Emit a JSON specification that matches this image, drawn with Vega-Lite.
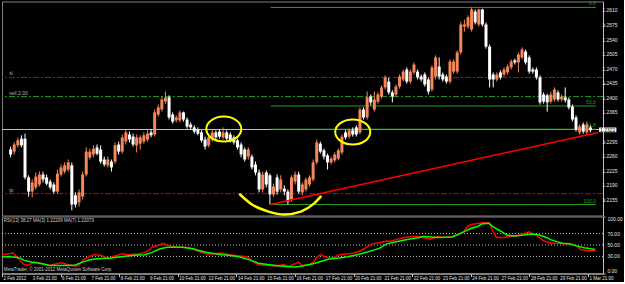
{
  "$schema": "https://vega.github.io/schema/vega-lite/v6.json",
  "background": "black",
  "padding": {"left": -2, "top": 0.5, "right": 0, "bottom": 0},
  "spacing": 1,
  "bounds": "flush",
  "config": {
    "view": {"stroke": "#808080", "strokeWidth": 1},
    "font": "Liberation Sans",
    "axis": {"grid": false, "title": null, "labels": false, "domainColor": "#C0C0C0", "tickColor": "#C0C0C0"}
  },
  "datasets": {
    "candles": [
{"i":1,"o":1.2276,"h":1.2283,"l":1.2257,"c":1.2264},
{"i":2,"o":1.2271,"h":1.2293,"l":1.2264,"c":1.2288},
{"i":3,"o":1.2286,"h":1.2305,"l":1.2281,"c":1.2298},
{"i":4,"o":1.2302,"h":1.2310,"l":1.2281,"c":1.2286},
{"i":5,"o":1.2302,"h":1.2314,"l":1.2204,"c":1.2209},
{"i":6,"o":1.2209,"h":1.2214,"l":1.2163,"c":1.2175},
{"i":7,"o":1.2175,"h":1.2204,"l":1.2161,"c":1.2197},
{"i":8,"o":1.2185,"h":1.2221,"l":1.2180,"c":1.2211},
{"i":9,"o":1.2192,"h":1.2223,"l":1.2187,"c":1.2216},
{"i":10,"o":1.2216,"h":1.2223,"l":1.2197,"c":1.2204},
{"i":11,"o":1.2209,"h":1.2216,"l":1.2190,"c":1.2194},
{"i":12,"o":1.2199,"h":1.2204,"l":1.2180,"c":1.2185},
{"i":13,"o":1.2192,"h":1.2197,"l":1.2170,"c":1.2175},
{"i":14,"o":1.2175,"h":1.2228,"l":1.2170,"c":1.2218},
{"i":15,"o":1.2216,"h":1.2240,"l":1.2211,"c":1.2233},
{"i":16,"o":1.2223,"h":1.2245,"l":1.2218,"c":1.2238},
{"i":17,"o":1.2228,"h":1.2252,"l":1.2223,"c":1.2245},
{"i":18,"o":1.2238,"h":1.2245,"l":1.2130,"c":1.2144},
{"i":19,"o":1.2166,"h":1.2173,"l":1.2137,"c":1.2144},
{"i":20,"o":1.2149,"h":1.2180,"l":1.2139,"c":1.2173},
{"i":21,"o":1.2163,"h":1.2223,"l":1.2156,"c":1.2216},
{"i":22,"o":1.2216,"h":1.2281,"l":1.2211,"c":1.2271},
{"i":23,"o":1.2257,"h":1.2278,"l":1.2252,"c":1.2271},
{"i":24,"o":1.2264,"h":1.2286,"l":1.2257,"c":1.2278},
{"i":25,"o":1.2281,"h":1.2288,"l":1.2262,"c":1.2266},
{"i":26,"o":1.2276,"h":1.2286,"l":1.2242,"c":1.2247},
{"i":27,"o":1.2252,"h":1.2259,"l":1.2235,"c":1.2240},
{"i":28,"o":1.2238,"h":1.2259,"l":1.2233,"c":1.2252},
{"i":29,"o":1.2247,"h":1.2252,"l":1.2223,"c":1.2233},
{"i":30,"o":1.2247,"h":1.2293,"l":1.2242,"c":1.2286},
{"i":31,"o":1.2288,"h":1.2295,"l":1.2264,"c":1.2271},
{"i":32,"o":1.2271,"h":1.2312,"l":1.2266,"c":1.2305},
{"i":33,"o":1.2295,"h":1.2324,"l":1.2288,"c":1.2317},
{"i":34,"o":1.2312,"h":1.2319,"l":1.2293,"c":1.2300},
{"i":35,"o":1.2307,"h":1.2314,"l":1.2283,"c":1.2288},
{"i":36,"o":1.2286,"h":1.2312,"l":1.2269,"c":1.2305},
{"i":37,"o":1.2290,"h":1.2310,"l":1.2276,"c":1.2305},
{"i":38,"o":1.2295,"h":1.2317,"l":1.2290,"c":1.2310},
{"i":39,"o":1.2300,"h":1.2322,"l":1.2295,"c":1.2314},
{"i":40,"o":1.2317,"h":1.2324,"l":1.2305,"c":1.2310},
{"i":41,"o":1.2312,"h":1.2372,"l":1.2307,"c":1.2365},
{"i":42,"o":1.2360,"h":1.2384,"l":1.2355,"c":1.2377},
{"i":43,"o":1.2372,"h":1.2403,"l":1.2367,"c":1.2396},
{"i":44,"o":1.2391,"h":1.2415,"l":1.2386,"c":1.2401},
{"i":45,"o":1.2401,"h":1.2406,"l":1.2348,"c":1.2353},
{"i":46,"o":1.2360,"h":1.2365,"l":1.2338,"c":1.2343},
{"i":47,"o":1.2346,"h":1.2358,"l":1.2341,"c":1.2353},
{"i":48,"o":1.2346,"h":1.2370,"l":1.2341,"c":1.2365},
{"i":49,"o":1.2365,"h":1.2367,"l":1.2343,"c":1.2348},
{"i":50,"o":1.2348,"h":1.2353,"l":1.2326,"c":1.2331},
{"i":51,"o":1.2336,"h":1.2341,"l":1.2324,"c":1.2329},
{"i":52,"o":1.2329,"h":1.2334,"l":1.2314,"c":1.2319},
{"i":53,"o":1.2324,"h":1.2329,"l":1.2310,"c":1.2314},
{"i":54,"o":1.2317,"h":1.2322,"l":1.2293,"c":1.2298},
{"i":55,"o":1.2300,"h":1.2307,"l":1.2276,"c":1.2283},
{"i":56,"o":1.2286,"h":1.2310,"l":1.2281,"c":1.2305},
{"i":57,"o":1.2300,"h":1.2324,"l":1.2295,"c":1.2317},
{"i":58,"o":1.2317,"h":1.2322,"l":1.2300,"c":1.2305},
{"i":59,"o":1.2319,"h":1.2324,"l":1.2302,"c":1.2307},
{"i":60,"o":1.2305,"h":1.2329,"l":1.2300,"c":1.2317},
{"i":61,"o":1.2317,"h":1.2322,"l":1.2298,"c":1.2302},
{"i":62,"o":1.2312,"h":1.2317,"l":1.2293,"c":1.2298},
{"i":63,"o":1.2305,"h":1.2310,"l":1.2288,"c":1.2293},
{"i":64,"o":1.2298,"h":1.2302,"l":1.2276,"c":1.2281},
{"i":65,"o":1.2288,"h":1.2293,"l":1.2257,"c":1.2264},
{"i":66,"o":1.2276,"h":1.2281,"l":1.2247,"c":1.2252},
{"i":67,"o":1.2259,"h":1.2281,"l":1.2252,"c":1.2276},
{"i":68,"o":1.2259,"h":1.2264,"l":1.2228,"c":1.2233},
{"i":69,"o":1.2240,"h":1.2247,"l":1.2214,"c":1.2221},
{"i":70,"o":1.2221,"h":1.2228,"l":1.2173,"c":1.2180},
{"i":71,"o":1.2180,"h":1.2223,"l":1.2173,"c":1.2216},
{"i":72,"o":1.2221,"h":1.2226,"l":1.2185,"c":1.2192},
{"i":73,"o":1.2214,"h":1.2218,"l":1.2144,"c":1.2168},
{"i":74,"o":1.2168,"h":1.2194,"l":1.2163,"c":1.2187},
{"i":75,"o":1.2209,"h":1.2216,"l":1.2168,"c":1.2175},
{"i":76,"o":1.2180,"h":1.2214,"l":1.2173,"c":1.2204},
{"i":77,"o":1.2182,"h":1.2190,"l":1.2166,"c":1.2175},
{"i":78,"o":1.2175,"h":1.2180,"l":1.2144,"c":1.2151},
{"i":79,"o":1.2156,"h":1.2214,"l":1.2151,"c":1.2209},
{"i":80,"o":1.2199,"h":1.2223,"l":1.2192,"c":1.2216},
{"i":81,"o":1.2216,"h":1.2223,"l":1.2170,"c":1.2175},
{"i":82,"o":1.2173,"h":1.2197,"l":1.2166,"c":1.2192},
{"i":83,"o":1.2180,"h":1.2209,"l":1.2175,"c":1.2204},
{"i":84,"o":1.2192,"h":1.2214,"l":1.2187,"c":1.2209},
{"i":85,"o":1.2204,"h":1.2252,"l":1.2199,"c":1.2245},
{"i":86,"o":1.2245,"h":1.2300,"l":1.2240,"c":1.2293},
{"i":87,"o":1.2290,"h":1.2295,"l":1.2266,"c":1.2271},
{"i":88,"o":1.2274,"h":1.2278,"l":1.2252,"c":1.2259},
{"i":89,"o":1.2262,"h":1.2266,"l":1.2228,"c":1.2245},
{"i":90,"o":1.2245,"h":1.2259,"l":1.2240,"c":1.2254},
{"i":91,"o":1.2250,"h":1.2269,"l":1.2245,"c":1.2264},
{"i":92,"o":1.2254,"h":1.2278,"l":1.2250,"c":1.2274},
{"i":93,"o":1.2269,"h":1.2312,"l":1.2264,"c":1.2307},
{"i":94,"o":1.2317,"h":1.2322,"l":1.2300,"c":1.2305},
{"i":95,"o":1.2307,"h":1.2326,"l":1.2302,"c":1.2322},
{"i":96,"o":1.2322,"h":1.2329,"l":1.2307,"c":1.2312},
{"i":97,"o":1.2329,"h":1.2334,"l":1.2307,"c":1.2312},
{"i":98,"o":1.2317,"h":1.2377,"l":1.2312,"c":1.2372},
{"i":99,"o":1.2372,"h":1.2377,"l":1.2348,"c":1.2353},
{"i":100,"o":1.2353,"h":1.2415,"l":1.2348,"c":1.2401},
{"i":101,"o":1.2403,"h":1.2408,"l":1.2382,"c":1.2389},
{"i":102,"o":1.2372,"h":1.2415,"l":1.2367,"c":1.2396},
{"i":103,"o":1.2391,"h":1.2413,"l":1.2386,"c":1.2408},
{"i":104,"o":1.2403,"h":1.2430,"l":1.2398,"c":1.2425},
{"i":105,"o":1.2425,"h":1.2454,"l":1.2420,"c":1.2449},
{"i":106,"o":1.2439,"h":1.2449,"l":1.2408,"c":1.2413},
{"i":107,"o":1.2413,"h":1.2418,"l":1.2389,"c":1.2403},
{"i":108,"o":1.2408,"h":1.2432,"l":1.2403,"c":1.2427},
{"i":109,"o":1.2427,"h":1.2456,"l":1.2422,"c":1.2451},
{"i":110,"o":1.2444,"h":1.2468,"l":1.2439,"c":1.2463},
{"i":111,"o":1.2468,"h":1.2473,"l":1.2434,"c":1.2439},
{"i":112,"o":1.2439,"h":1.2468,"l":1.2434,"c":1.2463},
{"i":113,"o":1.2461,"h":1.2485,"l":1.2456,"c":1.2480},
{"i":114,"o":1.2463,"h":1.2468,"l":1.2444,"c":1.2449},
{"i":115,"o":1.2451,"h":1.2456,"l":1.2439,"c":1.2444},
{"i":116,"o":1.2456,"h":1.2461,"l":1.2427,"c":1.2432},
{"i":117,"o":1.2444,"h":1.2449,"l":1.2408,"c":1.2415},
{"i":118,"o":1.2420,"h":1.2478,"l":1.2415,"c":1.2473},
{"i":119,"o":1.2451,"h":1.2502,"l":1.2444,"c":1.2497},
{"i":120,"o":1.2475,"h":1.2497,"l":1.2444,"c":1.2451},
{"i":121,"o":1.2456,"h":1.2461,"l":1.2439,"c":1.2444},
{"i":122,"o":1.2451,"h":1.2456,"l":1.2434,"c":1.2439},
{"i":123,"o":1.2439,"h":1.2492,"l":1.2434,"c":1.2487},
{"i":124,"o":1.2463,"h":1.2492,"l":1.2458,"c":1.2487},
{"i":125,"o":1.2463,"h":1.2514,"l":1.2458,"c":1.2509},
{"i":126,"o":1.2509,"h":1.2583,"l":1.2504,"c":1.2576},
{"i":127,"o":1.2571,"h":1.2588,"l":1.2559,"c":1.2576},
{"i":128,"o":1.2571,"h":1.2598,"l":1.2566,"c":1.2593},
{"i":129,"o":1.2564,"h":1.2617,"l":1.2559,"c":1.2612},
{"i":130,"o":1.2607,"h":1.2612,"l":1.2576,"c":1.2581},
{"i":131,"o":1.2576,"h":1.2614,"l":1.2571,"c":1.2612},
{"i":132,"o":1.2612,"h":1.2614,"l":1.2571,"c":1.2576},
{"i":133,"o":1.2576,"h":1.2581,"l":1.2518,"c":1.2523},
{"i":134,"o":1.2523,"h":1.2528,"l":1.2425,"c":1.2444},
{"i":135,"o":1.2456,"h":1.2461,"l":1.2425,"c":1.2444},
{"i":136,"o":1.2444,"h":1.2461,"l":1.2439,"c":1.2456},
{"i":137,"o":1.2461,"h":1.2466,"l":1.2444,"c":1.2449},
{"i":138,"o":1.2456,"h":1.2473,"l":1.2451,"c":1.2468},
{"i":139,"o":1.2461,"h":1.2480,"l":1.2456,"c":1.2475},
{"i":140,"o":1.2473,"h":1.2492,"l":1.2468,"c":1.2487},
{"i":141,"o":1.2490,"h":1.2494,"l":1.2480,"c":1.2485},
{"i":142,"o":1.2485,"h":1.2509,"l":1.2461,"c":1.2504},
{"i":143,"o":1.2497,"h":1.2521,"l":1.2492,"c":1.2516},
{"i":144,"o":1.2511,"h":1.2516,"l":1.2480,"c":1.2485},
{"i":145,"o":1.2497,"h":1.2502,"l":1.2458,"c":1.2463},
{"i":146,"o":1.2468,"h":1.2473,"l":1.2458,"c":1.2463},
{"i":147,"o":1.2468,"h":1.2473,"l":1.2444,"c":1.2449},
{"i":148,"o":1.2449,"h":1.2454,"l":1.2384,"c":1.2389},
{"i":149,"o":1.2408,"h":1.2413,"l":1.2386,"c":1.2391},
{"i":150,"o":1.2406,"h":1.2410,"l":1.2367,"c":1.2389},
{"i":151,"o":1.2391,"h":1.2415,"l":1.2386,"c":1.2408},
{"i":152,"o":1.2396,"h":1.2425,"l":1.2391,"c":1.2420},
{"i":153,"o":1.2413,"h":1.2418,"l":1.2391,"c":1.2396},
{"i":154,"o":1.2396,"h":1.2408,"l":1.2391,"c":1.2403},
{"i":155,"o":1.2401,"h":1.2425,"l":1.2389,"c":1.2394},
{"i":156,"o":1.2396,"h":1.2401,"l":1.2372,"c":1.2377},
{"i":157,"o":1.2379,"h":1.2384,"l":1.2343,"c":1.2348},
{"i":158,"o":1.2353,"h":1.2358,"l":1.2319,"c":1.2324},
{"i":159,"o":1.2317,"h":1.2336,"l":1.2312,"c":1.2331},
{"i":160,"o":1.2336,"h":1.2341,"l":1.2314,"c":1.2319},
{"i":161,"o":1.2317,"h":1.2343,"l":1.2312,"c":1.2336},
{"i":162,"o":1.2329,"h":1.2334,"l":1.2317,"c":1.2322}
    ],
    "rsi": [
{"i":0,"v":33},{"i":3,"v":36},{"i":5,"v":23},{"i":6,"v":15.5},{"i":7,"v":14.5},{"i":9,"v":20},{"i":11,"v":17},{"i":13,"v":14},{"i":16,"v":19},{"i":19,"v":14},{"i":20,"v":13},{"i":21,"v":14},{"i":22,"v":23},{"i":24,"v":30},{"i":25,"v":33},{"i":27,"v":32},{"i":29,"v":26},{"i":30,"v":29},{"i":32,"v":33},{"i":33,"v":35},{"i":34,"v":33},{"i":37,"v":34},{"i":39,"v":37},{"i":40,"v":40},{"i":41,"v":46},{"i":43,"v":50},{"i":44,"v":53},{"i":45,"v":50},{"i":46,"v":48},{"i":48,"v":46},{"i":50,"v":46},{"i":52,"v":43},{"i":54,"v":38},{"i":56,"v":34},{"i":57,"v":34},{"i":60,"v":36},{"i":62,"v":33},{"i":65,"v":30.5},{"i":67,"v":29},{"i":68,"v":23},{"i":70,"v":15.5},{"i":72,"v":14},{"i":73,"v":14},{"i":75,"v":13},{"i":77,"v":15.5},{"i":78,"v":11.5},{"i":80,"v":17},{"i":81,"v":20},{"i":82,"v":14},{"i":84,"v":15.5},{"i":85,"v":20},{"i":86,"v":29},{"i":87,"v":33},{"i":88,"v":30},{"i":90,"v":27},{"i":91,"v":29},{"i":92,"v":33},{"i":94,"v":34},{"i":96,"v":36},{"i":98,"v":40},{"i":100,"v":48},{"i":101,"v":52},{"i":103,"v":54},{"i":105,"v":57},{"i":106,"v":56},{"i":108,"v":60},{"i":110,"v":63},{"i":112,"v":65},{"i":114,"v":65},{"i":115,"v":63},{"i":117,"v":60},{"i":119,"v":65},{"i":120,"v":63},{"i":123,"v":65},{"i":124,"v":67},{"i":126,"v":72},{"i":127,"v":82},{"i":128,"v":86},{"i":129,"v":87},{"i":131,"v":89},{"i":133,"v":89},{"i":134,"v":75},{"i":135,"v":63},{"i":137,"v":63},{"i":139,"v":65},{"i":141,"v":67},{"i":142,"v":69},{"i":144,"v":73},{"i":145,"v":69},{"i":146,"v":67},{"i":148,"v":57},{"i":150,"v":53},{"i":152,"v":53},{"i":153,"v":52},{"i":155,"v":52},{"i":157,"v":48},{"i":158,"v":42},{"i":160,"v":40},{"i":162,"v":40}
    ],
    "ma": [
{"i":0,"v":29},{"i":2,"v":30},{"i":5,"v":27},{"i":6,"v":23},{"i":8,"v":20},{"i":11,"v":17},{"i":13,"v":14},{"i":16,"v":14},{"i":18,"v":14},{"i":20,"v":15},{"i":22,"v":20},{"i":24,"v":24},{"i":26,"v":26},{"i":30,"v":27},{"i":32,"v":29},{"i":36,"v":32},{"i":39,"v":33},{"i":41,"v":37},{"i":43,"v":43},{"i":45,"v":46},{"i":49,"v":46},{"i":52,"v":44},{"i":54,"v":40},{"i":56,"v":37},{"i":60,"v":33},{"i":62,"v":32},{"i":65,"v":29},{"i":68,"v":23},{"i":70,"v":18},{"i":73,"v":15.5},{"i":76,"v":13},{"i":80,"v":11.5},{"i":82,"v":13},{"i":85,"v":17},{"i":87,"v":21},{"i":89,"v":25},{"i":92,"v":27},{"i":94,"v":29},{"i":97,"v":33},{"i":100,"v":38},{"i":103,"v":44},{"i":105,"v":52},{"i":108,"v":56},{"i":111,"v":60},{"i":114,"v":63},{"i":115,"v":65},{"i":119,"v":63},{"i":123,"v":64},{"i":124,"v":67},{"i":126,"v":73},{"i":128,"v":79},{"i":130,"v":83},{"i":131,"v":87},{"i":133,"v":88},{"i":134,"v":82},{"i":136,"v":75},{"i":138,"v":67},{"i":140,"v":66},{"i":142,"v":67},{"i":144,"v":69},{"i":146,"v":69},{"i":148,"v":65},{"i":150,"v":59},{"i":152,"v":55},{"i":153,"v":53},{"i":155,"v":52},{"i":157,"v":48},{"i":159,"v":45},{"i":162,"v":42}
    ],
    "fib": [
      {"lvl":"0.0","p":1.2617,"i1":73.2,"i2":163.5},
      {"lvl":"50.0","p":1.23805,"i1":73.2,"i2":163.5},
      {"lvl":"61.8","p":1.23247,"i1":73.2,"i2":163.5},
      {"lvl":"100.0","p":1.2144,"i1":73.2,"i2":163.5}
    ],
    "orders": [
      {"t":"sl","p":1.2449,"k":"red"},
      {"t":"sell 2.00","p":1.2403,"k":"green"},
      {"t":"tp","p":1.2170,"k":"red"}
    ],
    "trend": [{"i":73.2,"p":1.2144},{"i":164.1,"p":1.2317}],
    "ellipses": [{"i":60.2,"p":1.2325},{"i":96,"p":1.2318}],
    "smile": [
      {"i":64.7,"p":1.2168},{"i":68.0,"p":1.2144},{"i":72.6,"p":1.2127},{"i":77.0,"p":1.2120},{"i":81.6,"p":1.2127},{"i":85.2,"p":1.2146},{"i":87.1,"p":1.2163}
    ],
    "price": [{"i1":164.4,"i2":169.2,"p1":1.23175,"p2":1.23288,"t":"1.2322","pm":1.2323}],
    "ptick": [
      {"p":1.2155,"t":"1.2155"},{"p":1.2190,"t":"1.2190"},{"p":1.2225,"t":"1.2225"},{"p":1.2260,"t":"1.2260"},{"p":1.2295,"t":"1.2295"},{"p":1.2365,"t":"1.2365"},{"p":1.2400,"t":"1.2400"},{"p":1.2435,"t":"1.2435"},{"p":1.2470,"t":"1.2470"},{"p":1.2505,"t":"1.2505"},{"p":1.2540,"t":"1.2540"},{"p":1.2575,"t":"1.2575"},{"p":1.2610,"t":"1.2610"}
    ],
    "ttick": [
      {"i":0,"t":"2 Feb 2012"},{"i":8,"t":"3 Feb 21:00"},{"i":16,"t":"6 Feb 21:00"},{"i":24,"t":"7 Feb 21:00"},{"i":32,"t":"8 Feb 21:00"},{"i":40,"t":"9 Feb 21:00"},{"i":48,"t":"10 Feb 21:00"},{"i":56,"t":"13 Feb 21:00"},{"i":64,"t":"14 Feb 21:00"},{"i":72,"t":"15 Feb 21:00"},{"i":80,"t":"16 Feb 21:00"},{"i":88,"t":"17 Feb 21:00"},{"i":96,"t":"20 Feb 21:00"},{"i":104,"t":"21 Feb 21:00"},{"i":112,"t":"22 Feb 21:00"},{"i":120,"t":"23 Feb 21:00"},{"i":128,"t":"24 Feb 21:00"},{"i":136,"t":"27 Feb 21:00"},{"i":144,"t":"28 Feb 21:00"},{"i":152,"t":"29 Feb 21:00"},{"i":160,"t":"1 Mar 21:00"}
    ]
  },
  "vconcat": [
    {
      "width": 601,
      "height": 214,
      "layer": [
        {
          "data": {"values": [{"p":1.2324}]},
          "mark": {"type": "rule", "color": "#C0C0C0", "strokeWidth": 1},
          "encoding": {
            "y": {"field": "p", "type": "quantitative", "scale": {"domain": [1.21176, 1.26312], "nice": false, "zero": false},
                  "axis": {"orient": "right", "values": [1.2155,1.2190,1.2225,1.2260,1.2295,1.2330,1.2365,1.2400,1.2435,1.2470,1.2505,1.2540,1.2575,1.2610], "tickSize": 2, "labels": false}}
          }
        },
        {
          "data": {"name": "orders"},
          "transform": [{"filter": "datum.k == 'red'"}],
          "mark": {"type": "rule", "color": "#D00000", "strokeWidth": 1, "strokeDash": [6, 2, 2, 2]},
          "encoding": {"y": {"field": "p", "type": "quantitative"}}
        },
        {
          "data": {"name": "orders"},
          "transform": [{"filter": "datum.k == 'green'"}],
          "mark": {"type": "rule", "color": "#1E961E", "strokeWidth": 1, "strokeDash": [6, 2, 2, 2]},
          "encoding": {"y": {"field": "p", "type": "quantitative"}}
        },
        {
          "data": {"name": "orders"},
          "mark": {"type": "text", "color": "#B0B0B0", "fontSize": 5, "align": "left", "baseline": "bottom", "dy": -1},
          "encoding": {
            "x": {"datum": 0.6, "type": "quantitative", "scale": {"domain": [0, 164.1], "nice": false, "zero": false}, "axis": null},
            "y": {"field": "p", "type": "quantitative"},
            "text": {"field": "t"}
          }
        },
        {
          "data": {"name": "fib"},
          "mark": {"type": "rule", "color": "#22A022", "strokeWidth": 1},
          "encoding": {
            "x": {"field": "i1", "type": "quantitative", "axis": null},
            "x2": {"field": "i2"},
            "y": {"field": "p", "type": "quantitative"}
          }
        },
        {
          "data": {"name": "fib"},
          "mark": {"type": "text", "color": "#22A022", "fontSize": 5, "align": "right", "baseline": "bottom", "dy": -1},
          "encoding": {
            "x": {"field": "i2", "type": "quantitative", "axis": null},
            "y": {"field": "p", "type": "quantitative"},
            "text": {"field": "lvl"}
          }
        },
        {
          "data": {"name": "candles"},
          "mark": {"type": "rule", "strokeWidth": 1},
          "encoding": {
            "x": {"field": "i", "type": "quantitative", "axis": null},
            "y": {"field": "l", "type": "quantitative"},
            "y2": {"field": "h"},
            "color": {"condition": {"test": "datum.c >= datum.o", "value": "#F5875A"}, "value": "#FFFFFF"}
          }
        },
        {
          "data": {"name": "candles"},
          "mark": {"type": "bar", "width": 3},
          "encoding": {
            "x": {"field": "i", "type": "quantitative", "axis": null},
            "y": {"field": "o", "type": "quantitative"},
            "y2": {"field": "c"},
            "color": {"condition": {"test": "datum.c >= datum.o", "value": "#F5875A"}, "value": "#FFFFFF"}
          }
        },
        {
          "data": {"name": "trend"},
          "mark": {"type": "line", "color": "#FF0000", "strokeWidth": 1.5},
          "encoding": {
            "x": {"field": "i", "type": "quantitative", "axis": null},
            "y": {"field": "p", "type": "quantitative"}
          }
        },
        {
          "data": {"name": "ellipses"},
          "mark": {"type": "point", "shape": "M -1.4,0 A 1.4,1 0 1,1 1.4,0 A 1.4,1 0 1,1 -1.4,0 Z", "size": 625, "filled": false, "stroke": "#FFFF00", "strokeWidth": 2, "opacity": 1},
          "encoding": {
            "x": {"field": "i", "type": "quantitative", "axis": null},
            "y": {"field": "p", "type": "quantitative"}
          }
        },
        {
          "data": {"name": "smile"},
          "mark": {"type": "line", "color": "#FFFF00", "strokeWidth": 2.5, "strokeCap": "round", "interpolate": "monotone"},
          "encoding": {
            "x": {"field": "i", "type": "quantitative", "axis": null},
            "y": {"field": "p", "type": "quantitative"}
          }
        },
        {
          "data": {"name": "ptick"},
          "mark": {"type": "text", "color": "#E0E0E0", "fontSize": 5, "align": "left", "baseline": "middle", "clip": false},
          "encoding": {
            "x": {"datum": 165.3, "type": "quantitative", "axis": null},
            "y": {"field": "p", "type": "quantitative"},
            "text": {"field": "t"}
          }
        },
        {
          "data": {"name": "price"},
          "mark": {"type": "rect", "color": "#FFFFFF", "clip": false},
          "encoding": {
            "x": {"field": "i1", "type": "quantitative", "axis": null},
            "x2": {"field": "i2"},
            "y": {"field": "p1", "type": "quantitative"},
            "y2": {"field": "p2"}
          }
        },
        {
          "data": {"name": "price"},
          "mark": {"type": "text", "color": "#000000", "fontSize": 5, "align": "left", "baseline": "middle", "dx": 1, "clip": false},
          "encoding": {
            "x": {"field": "i1", "type": "quantitative", "axis": null},
            "y": {"field": "pm", "type": "quantitative"},
            "text": {"field": "t"}
          }
        }
      ]
    },
    {
      "width": 601,
      "height": 57,
      "layer": [
        {
          "data": {"values": [{"v":30},{"v":50},{"v":70}]},
          "mark": {"type": "rule", "color": "#C0C0C0", "strokeWidth": 1, "strokeDash": [1, 2]},
          "encoding": {
            "y": {"field": "v", "type": "quantitative", "scale": {"domain": [0, 100], "nice": false},
                  "axis": {"orient": "right", "values": [0, 30, 50, 70, 100], "tickSize": 2, "labels": false}}
          }
        },
        {
          "data": {"name": "rsi"},
          "mark": {"type": "line", "color": "#FF0000", "strokeWidth": 1.5},
          "encoding": {
            "x": {"field": "i", "type": "quantitative", "scale": {"domain": [0, 164.1], "nice": false, "zero": false},
                  "axis": {"values": [0,8,16,24,32,40,48,56,64,72,80,88,96,104,112,120,128,136,144,152,160], "tickSize": 3, "labels": false}},
            "y": {"field": "v", "type": "quantitative"}
          }
        },
        {
          "data": {"name": "ma"},
          "mark": {"type": "line", "color": "#00FF00", "strokeWidth": 1.5},
          "encoding": {
            "x": {"field": "i", "type": "quantitative"},
            "y": {"field": "v", "type": "quantitative"}
          }
        },
        {
          "data": {"values": [{"t": "RSI(13) 38.27 MA(3) 1.22209 MA(7) 1.22079", "i": 0.5, "v": 98}]},
          "mark": {"type": "text", "color": "#D0D0D0", "fontSize": 4.5, "align": "left", "baseline": "top"},
          "encoding": {
            "x": {"field": "i", "type": "quantitative"},
            "y": {"field": "v", "type": "quantitative"},
            "text": {"field": "t"}
          }
        },
        {
          "data": {"values": [{"t": "MetaTrader, © 2001-2012 MetaQuotes Software Corp.", "i": 0.5, "v": 2}]},
          "mark": {"type": "text", "color": "#D0D0D0", "fontSize": 4.5, "align": "left", "baseline": "bottom"},
          "encoding": {
            "x": {"field": "i", "type": "quantitative"},
            "y": {"field": "v", "type": "quantitative"},
            "text": {"field": "t"}
          }
        },
        {
          "data": {"values": [{"v": 100, "t": "100.00"}]},
          "mark": {"type": "text", "color": "#E0E0E0", "fontSize": 5, "align": "left", "baseline": "top", "clip": false},
          "encoding": {
            "x": {"datum": 165.3, "type": "quantitative"},
            "y": {"field": "v", "type": "quantitative"},
            "text": {"field": "t"}
          }
        },
        {
          "data": {"values": [{"v": 70, "t": "70.00"}, {"v": 50, "t": "50.00"}, {"v": 30, "t": "30.00"}]},
          "mark": {"type": "text", "color": "#E0E0E0", "fontSize": 5, "align": "left", "baseline": "middle", "clip": false},
          "encoding": {
            "x": {"datum": 165.3, "type": "quantitative"},
            "y": {"field": "v", "type": "quantitative"},
            "text": {"field": "t"}
          }
        },
        {
          "data": {"values": [{"v": 0, "t": "0.00"}]},
          "mark": {"type": "text", "color": "#E0E0E0", "fontSize": 5, "align": "left", "baseline": "bottom", "clip": false},
          "encoding": {
            "x": {"datum": 165.3, "type": "quantitative"},
            "y": {"field": "v", "type": "quantitative"},
            "text": {"field": "t"}
          }
        },
        {
          "data": {"name": "ttick"},
          "mark": {"type": "text", "color": "#E0E0E0", "fontSize": 4.5, "align": "left", "baseline": "middle", "dx": 1.5, "clip": false},
          "encoding": {
            "x": {"field": "i", "type": "quantitative"},
            "y": {"datum": -9, "type": "quantitative"},
            "text": {"field": "t"}
          }
        }
      ]
    }
  ]
}
